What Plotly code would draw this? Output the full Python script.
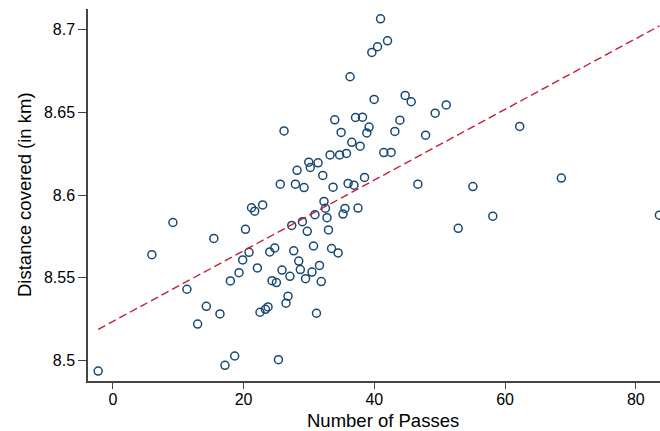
import numpy as np
import plotly.graph_objects as go

passes = [-2.24, 5.97, 9.19, 11.33, 12.97, 14.30, 15.45, 16.39, 17.15, 17.98,
          18.64, 19.30, 19.86, 20.29, 20.83, 21.21, 21.70, 22.11, 22.51, 22.92,
          23.34, 23.74, 24.00, 24.35, 24.76, 25.02, 25.33, 25.61, 25.88, 26.19,
          26.49, 26.80, 27.09, 27.37, 27.67, 27.93, 28.18, 28.44, 28.68, 29.00,
          29.25, 29.48, 29.74, 29.97, 30.20, 30.46, 30.70, 30.92, 31.15, 31.39,
          31.61, 31.88, 32.11, 32.30, 32.53, 32.76, 32.99, 33.23, 33.46, 33.69,
          33.95, 34.46, 34.69, 34.92, 35.21, 35.51, 35.74, 35.99, 36.29, 36.55,
          36.89, 37.12, 37.50, 37.83, 38.19, 38.50, 38.85, 39.20, 39.62, 39.97,
          40.49, 40.95, 41.45, 42.02, 42.56, 43.14, 43.91, 44.72, 45.64, 46.66,
          47.84, 49.31, 51.00, 52.83, 55.08, 58.12, 62.24, 68.61, 83.61]
distance = [8.4937, 8.5640, 8.5834, 8.5431, 8.5221, 8.5328, 8.5738, 8.5282, 8.4972, 8.5481,
            8.5028, 8.5531, 8.5608, 8.5793, 8.5654, 8.5923, 8.5902, 8.5560, 8.5292, 8.5940,
            8.5310, 8.5324, 8.5656, 8.5483, 8.5680, 8.5471, 8.5006, 8.6065, 8.5547, 8.6387,
            8.5347, 8.5389, 8.5509, 8.5816, 8.5663, 8.6065, 8.6149, 8.5601, 8.5550, 8.5839,
            8.6045, 8.5495, 8.5781, 8.6198, 8.6166, 8.5535, 8.5692, 8.5881, 8.5286, 8.6194,
            8.5575, 8.5477, 8.6118, 8.5961, 8.5920, 8.5863, 8.5789, 8.6242, 8.5677, 8.6047,
            8.6454, 8.5650, 8.6242, 8.6378, 8.5885, 8.5919, 8.6251, 8.6070, 8.6714, 8.6318,
            8.6059, 8.6468, 8.5921, 8.6295, 8.6470, 8.6106, 8.6375, 8.6410, 8.6861, 8.6577,
            8.6895, 8.7064, 8.6256, 8.6931, 8.6257, 8.6384, 8.6452, 8.6601, 8.6563, 8.6065,
            8.6361, 8.6494, 8.6544, 8.5799, 8.6051, 8.5872, 8.6414, 8.6102, 8.5878]

x_ticks = [0, 20, 40, 60, 80]
y_ticks = [8.5, 8.55, 8.6, 8.65, 8.7]
y_tick_labels = ["8.5", "8.55", "8.6", "8.65", "8.7"]

slope, intercept = np.polyfit(passes, distance, 1)
fit_x = [min(passes), max(passes)]
fit_y = [intercept + slope * v for v in fit_x]

FONT = "Liberation Sans, Arial, Helvetica, sans-serif"

fig = go.Figure()
fig.add_trace(go.Scatter(
    x=passes, y=distance, mode="markers",
    marker=dict(symbol="circle-open", size=8, color="#1a476f",
                line=dict(width=1.5, color="#1a476f")),
    showlegend=False, hoverinfo="x+y"))
fig.add_trace(go.Scatter(
    x=fit_x, y=fit_y, mode="lines",
    line=dict(color="#c41e3a", width=1.4, dash="8px,4px"),
    showlegend=False))

fig.update_layout(
    width=660, height=431,
    margin=dict(l=88, r=0, t=9, b=50),
    paper_bgcolor="white", plot_bgcolor="white",
    font=dict(family=FONT, size=16, color="black"),
    xaxis=dict(range=[-3.8, 83.7], tickvals=x_ticks, showgrid=False, zeroline=False,
               showline=True, linecolor="#444", linewidth=1.5,
               ticks="outside", ticklen=6, tickwidth=1.2, tickcolor="#444",
               tickfont=dict(size=16), ticklabelstandoff=-3),
    yaxis=dict(range=[8.4877, 8.7123], tickvals=y_ticks, ticktext=y_tick_labels,
               showgrid=False, zeroline=False,
               showline=True, linecolor="#444", linewidth=1.5,
               ticks="outside", ticklen=8, tickwidth=1.2, tickcolor="#444",
               tickfont=dict(size=16)),
    annotations=[
        dict(text="Number of Passes", xref="paper", yref="paper", x=0.515, y=0,
             yshift=-39, xanchor="center", yanchor="middle", showarrow=False,
             font=dict(size=18.5)),
        dict(text="Distance covered (in km)", xref="paper", yref="paper", x=0, y=0.5,
             xshift=-64, xanchor="center", yanchor="middle", textangle=-90,
             showarrow=False, font=dict(size=18.5)),
    ],
)

fig.write_html("out.html", config={"displayModeBar": False},
               post_script="document.body.style.margin='0';document.body.style.overflow='hidden';")
